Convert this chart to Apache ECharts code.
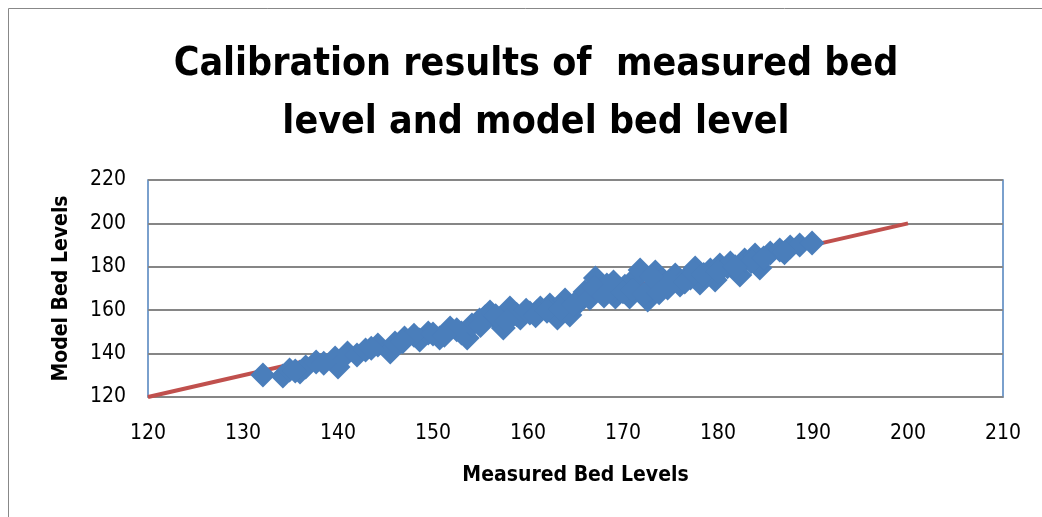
<!DOCTYPE html>
<html>
<head>
<meta charset="utf-8">
<script src="https://cdn.jsdelivr.net/npm/echarts@6/dist/echarts.min.js"></script>
<style>
  html, body { margin: 0; padding: 0; background: #fff; }
  #chart { width: 1042px; height: 517px; }
</style>
</head>
<body>
<div id="chart"></div>
<script>
// measured vs model bed levels
const measured = [
  132.1, 134.2, 134.9, 136.0, 136.6, 137.7, 139.7, 140.0, 141.0, 142.0,
  142.9, 144.2, 145.5, 146.0, 147.0, 148.6, 149.5, 150.7, 151.8, 153.0,
  153.6, 154.1, 154.9, 156.0, 157.0, 157.4, 158.1, 159.2, 160.2, 161.3,
  162.3, 163.1, 163.9, 164.4, 165.5, 166.0, 167.1, 167.6, 168.3, 169.2,
  169.7, 170.7, 171.3, 171.8, 172.6, 172.8, 173.4, 174.1, 174.7, 175.5,
  176.0, 177.1, 177.6, 178.1, 179.2, 179.7, 180.2, 181.3, 182.3, 182.8,
  183.9, 184.4, 185.5, 186.5, 187.6, 188.6, 189.9,
  143.5, 148.0, 152.5, 155.5, 158.8, 161.0, 165.0, 168.8, 170.2, 174.5,
  176.8, 178.8, 181.0, 183.5,
  135.5, 138.5, 146.8, 150.0, 151.2, 155.0, 156.6, 157.8, 159.8, 160.8,
  162.0, 163.5, 164.8, 166.5, 167.0, 168.0, 169.0, 170.0, 171.0, 172.2,
  173.0, 173.8, 175.0, 176.5, 177.5, 178.5, 180.0, 181.8, 184.8, 187.0
]
const model = [
  130.1, 129.7, 132.4, 131.5, 133.8, 136.1, 138.0, 133.8, 140.3, 139.4,
  141.7, 144.0, 140.7, 144.9, 147.2, 146.3, 149.5, 147.2, 151.8, 149.5,
  147.2, 153.2, 155.5, 159.2, 154.6, 151.8, 161.0, 156.4, 158.7, 161.0,
  162.4, 156.4, 164.7, 157.8, 164.7, 168.4, 174.8, 169.3, 171.6, 166.1,
  169.3, 166.1, 174.8, 178.5, 164.7, 169.3, 177.6, 173.9, 170.2, 176.2,
  171.6, 174.8, 179.4, 172.5, 178.5, 173.9, 180.8, 181.8, 176.2, 183.1,
  185.4, 179.4, 186.4, 187.7, 189.1, 190.0, 191.0,
  142.5, 148.5, 151.0, 157.0, 158.0, 159.5, 162.0, 168.0, 171.0, 172.0,
  175.5, 176.0, 180.0, 182.5,
  132.0, 135.5, 145.5, 149.0, 148.5, 153.0, 157.5, 155.0, 160.0, 157.5,
  159.5, 160.5, 162.5, 165.5, 170.5, 166.5, 173.0, 168.5, 169.0, 167.5,
  175.5, 168.0, 172.5, 173.0, 177.0, 176.5, 177.5, 180.0, 184.0, 186.5
]
const fitLine = [[120, 120], [200, 200]]

const xTicks = { min: 120, max: 210, interval: 10 }
const yTicks = { min: 120, max: 220, interval: 20 }

const font = "'DejaVu Sans Condensed', 'DejaVu Sans', sans-serif"

const chart = echarts.init(document.getElementById('chart'))
chart.setOption({
  animation: false,
  title: {
    text: 'Calibration results of  measured bed\nlevel and model bed level',
    left: 531,
    top: 31,
    textAlign: 'center',
    textStyle: { fontFamily: font, fontSize: 39, fontWeight: 'bold', color: '#000', lineHeight: 58 }
  },
  graphic: [
    { type: 'rect', shape: { x: 8.5, y: 8.5, width: 1200, height: 700 }, style: { fill: null, stroke: '#888', lineWidth: 1 }, silent: true }
  ],
  grid: { left: 148, right: 39, top: 180, bottom: 120, show: true, borderColor: '#4F81BD', borderWidth: 1.5 },
  xAxis: {
    type: 'value',
    ...xTicks,
    name: 'Measured Bed Levels',
    nameLocation: 'middle',
    nameGap: 68,
    nameTextStyle: { fontFamily: font, fontSize: 21, fontWeight: 'bold', color: '#000' },
    axisLine: { show: true, lineStyle: { color: '#868686', width: 1.5 } },
    axisTick: { show: false },
    axisLabel: { fontFamily: font, fontSize: 21, color: '#000', margin: 26 },
    splitLine: { show: false }
  },
  yAxis: {
    type: 'value',
    ...yTicks,
    name: 'Model Bed Levels',
    nameLocation: 'middle',
    nameGap: 76,
    nameTextStyle: { fontFamily: font, fontSize: 21, fontWeight: 'bold', color: '#000' },
    axisLine: { show: false },
    axisTick: { show: false },
    axisLabel: { fontFamily: font, fontSize: 21, color: '#000', margin: 22 },
    splitLine: { lineStyle: { color: '#868686', width: 2 } }
  },
  series: [
    {
      type: 'line',
      data: fitLine,
      symbol: 'none',
      lineStyle: { color: '#C0504D', width: 4 },
      z: 1
    },
    {
      type: 'scatter',
      data: measured.map((x, i) => [x, model[i]]),
      symbol: 'diamond',
      symbolSize: 25,
      itemStyle: { color: '#4A7EBB', opacity: 1 },
      z: 2
    }
  ]
})
</script>
</body>
</html>
